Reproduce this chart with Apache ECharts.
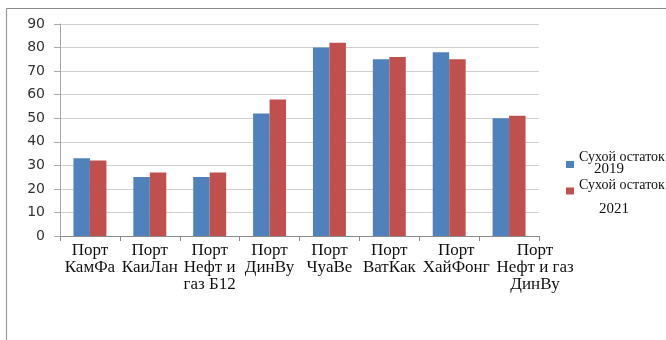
<!DOCTYPE html>
<html>
<head>
<meta charset="utf-8">
<script src="https://cdn.jsdelivr.net/npm/echarts@6/dist/echarts.min.js"></script>
<style>
  html, body { margin: 0; padding: 0; background: #fff; }
  #chart { width: 666px; height: 340px; }
</style>
</head>
<body>
<div id="chart"></div>
<script>
// Ports (category labels, line breaks as shown under the axis)
const ports = [
  'Порт\nКамФа',
  'Порт\nКаиЛан',
  'Порт\nНефт и\nгаз Б12',
  'Порт\nДинВу',
  'Порт\nЧуаВе',
  'Порт\nВатКак',
  'Порт\nХайФонг',
  'Порт\nНефт и газ\nДинВу'
];
// Dry residue by year
const dry2019 = [33, 25, 25, 52, 80, 75, 78, 50];
const dry2021 = [32, 27, 27, 58, 82, 76, 75, 51];
const seriesNames = ['Сухой остаток 2019', 'Сухой остаток 2021'];
const yTicks = { min: 0, max: 90, step: 10 };

const chart = echarts.init(document.getElementById('chart'), null, { renderer: 'canvas' });

// the two wide labels on the right are nudged rightwards
const labelShift = { 6: 14, 7: 52 };
const catData = ports.map((p, i) => labelShift[i]
  ? { value: p, textStyle: { padding: [0, 0, 0, labelShift[i]] } }
  : p);

const serif = 'Liberation Serif';

chart.setOption({
  animation: false,
  backgroundColor: '#fff',
  grid: { left: 60, right: 127, top: 24, bottom: 104 },
  graphic: [
    { type: 'line', shape: { x1: 6, y1: 8.5, x2: 666, y2: 8.5 }, style: { stroke: '#8a8a8a', lineWidth: 1.2 } },
    { type: 'line', shape: { x1: 6.5, y1: 8, x2: 6.5, y2: 340 }, style: { stroke: '#9a9a9a', lineWidth: 1.2 } }
  ],
  legend: [
    {
      data: [seriesNames[0]],
      left: 566, top: 150,
      itemWidth: 8, itemHeight: 7, itemGap: 4,
      icon: 'rect', padding: 0,
      formatter: () => '{a|Сухой остаток}\n{b|2019}',
      textStyle: {
        fontFamily: serif, color: '#111',
        rich: {
          a: { fontSize: 14, fontFamily: serif, color: '#111', lineHeight: 9 },
          b: { fontSize: 15, fontFamily: serif, color: '#111', lineHeight: 15, padding: [0, 0, 0, 15] }
        }
      }
    },
    {
      data: [seriesNames[1]],
      left: 566, top: 178,
      itemWidth: 8, itemHeight: 7, itemGap: 4,
      icon: 'rect', padding: 0,
      formatter: () => '{a|Сухой остаток}\n{b|2021}',
      textStyle: {
        fontFamily: serif, color: '#111',
        rich: {
          a: { fontSize: 14, fontFamily: serif, color: '#111', lineHeight: 36 },
          b: { fontSize: 15, fontFamily: serif, color: '#111', lineHeight: 12, padding: [0, 0, 0, 20] }
        }
      }
    }
  ],
  xAxis: {
    type: 'category',
    data: catData,
    axisLine: { lineStyle: { color: '#8c8c8c' } },
    axisTick: { show: true, length: 5, lineStyle: { color: '#8c8c8c' } },
    axisLabel: {
      interval: 0,
      margin: 6,
      fontFamily: serif,
      fontSize: 17,
      lineHeight: 17,
      color: '#111'
    }
  },
  yAxis: {
    type: 'value',
    min: yTicks.min, max: yTicks.max, interval: yTicks.step,
    axisLine: { show: true, lineStyle: { color: '#a8a8a8' } },
    axisTick: { show: true, length: 6, lineStyle: { color: '#a8a8a8' } },
    axisLabel: { fontFamily: 'DejaVu Sans', fontSize: 14, color: '#333', margin: 15 },
    splitLine: { lineStyle: { color: '#d0d0d0' } }
  },
  series: [
    {
      name: seriesNames[0], type: 'bar', data: dry2019,
      barGap: '0%', barCategoryGap: '45%',
      itemStyle: { color: '#4f81bd' }
    },
    {
      name: seriesNames[1], type: 'bar', data: dry2021,
      itemStyle: { color: '#c0504d' }
    }
  ]
});
</script>
</body>
</html>
